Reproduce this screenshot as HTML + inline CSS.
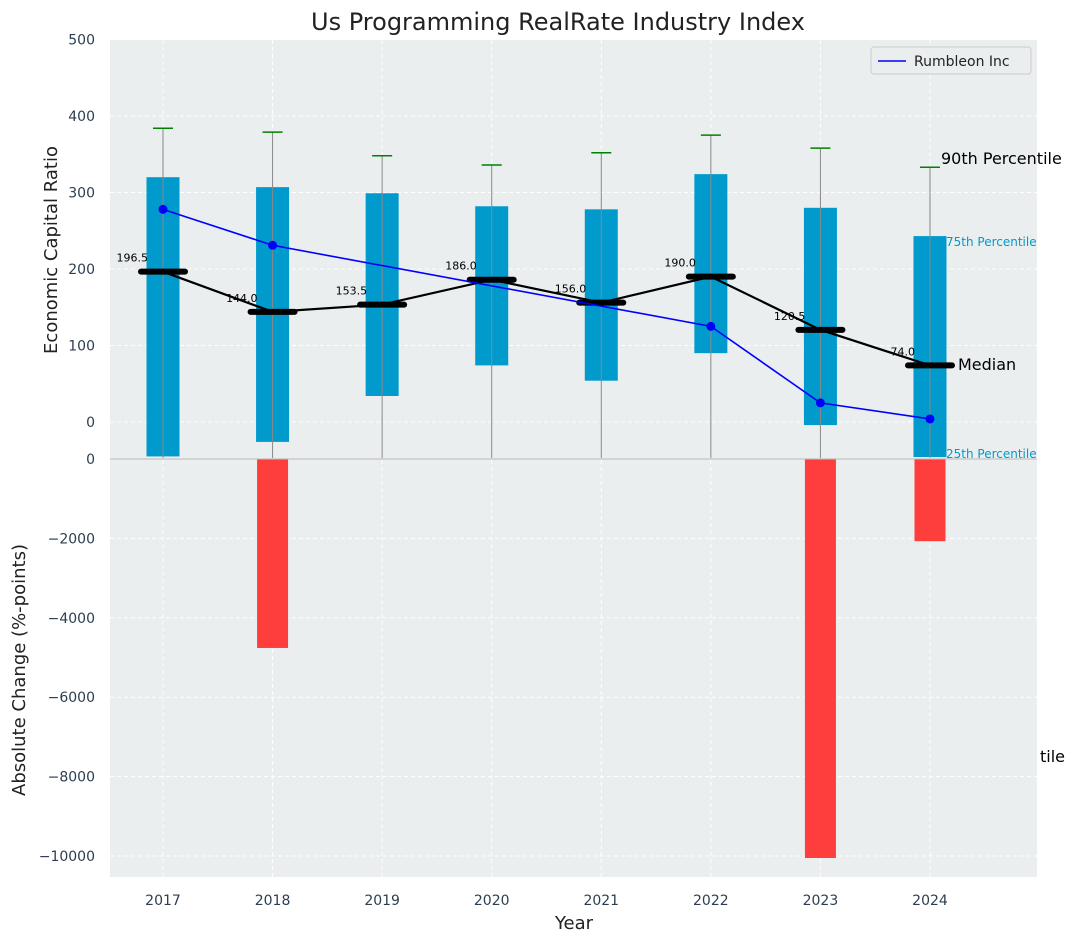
<!DOCTYPE html>
<html><head><meta charset="utf-8"><style>
body{margin:0;background:#fff;font-family:"Liberation Sans","DejaVu Sans",sans-serif}
svg text{font-family:"DejaVu Sans","Liberation Sans",sans-serif}
</style></head><body>
<svg id="c" width="1076" height="942"></svg>
<script>
const years=[2017,2018,2019,2020,2021,2022,2023,2024];
const q25=[-45,-26,34,74,54,90,-4,-46];
const q75=[320,307,299,282,278,324,280,243];
const p90=[384,379,348,336,352,375,358,333];
const medians=[196.5,144.0,153.5,186.0,156.0,190.0,120.5,74.0];
const rumbleon=[278,231,null,null,null,125,25,4];
const absChange=[0,-4760,0,0,0,0,-10050,-2070];
const topTicks=[0,100,200,300,400,500];
const botTicks=[0,-2000,-4000,-6000,-8000,-10000];

const NS="http://www.w3.org/2000/svg";
const svg=document.getElementById('c');
function el(t,a,p){const e=document.createElementNS(NS,t);for(const k in a)e.setAttribute(k,a[k]);(p||svg).appendChild(e);return e;}
const L=110,R=1037;
const x=y=>163+(y-2017)*109.57;
const yt=v=>422-v*0.765;
const yb=v=>459-v*(-0.0397)*-1*-1;
function ybot(v){return 459-v*0.0397*-1*-1*1+0;} 
const yB=v=>459+(-v)*0.0397;

let r=el('rect',{x:L,y:40,width:R-L,height:419,fill:'#eaeeee'});

r=el('rect',{x:L,y:459,width:R-L,height:418,fill:'#eaeeee'});


// grid
years.forEach(y=>{el('line',{x1:x(y),x2:x(y),y1:40,y2:877,stroke:'#fff','stroke-dasharray':'4,3','stroke-width':1});});
topTicks.forEach(v=>{el('line',{x1:L,x2:R,y1:yt(v),y2:yt(v),stroke:'#fff','stroke-dasharray':'4,3'});
 const t=el('text',{x:95,y:yt(v)+5,'text-anchor':'end','font-size':14,fill:'#2d3e50'});t.textContent=v;
 });
botTicks.forEach(v=>{el('line',{x1:L,x2:R,y1:yB(v),y2:yB(v),stroke:'#fff','stroke-dasharray':'4,3'});
 const t=el('text',{x:95,y:yB(v)+5,'text-anchor':'end','font-size':14,fill:'#2d3e50'});t.textContent=v<0?'\u2212'+(-v):v;
 });
years.forEach(y=>{const t=el('text',{x:x(y),y:905,'text-anchor':'middle','font-size':14,fill:'#2d3e50'});t.textContent=y;
 });

// boxes
years.forEach((y,i)=>{
 const b=el('rect',{x:x(y)-16.5,y:yt(q75[i]),width:33,height:Math.min(yt(q25[i]),457)-yt(q75[i]),fill:'#009acd'});
 
 el('line',{x1:x(y),x2:x(y),y1:yt(p90[i]),y2:458,stroke:'#888','stroke-width':1});
 const c=el('line',{x1:x(y)-10,x2:x(y)+10,y1:yt(p90[i]),y2:yt(p90[i]),stroke:'green','stroke-width':1.5});
 
 if(absChange[i]<0){const rb=el('rect',{x:x(y)-15.5,y:459,width:31,height:yB(absChange[i])-459,fill:'#ff3333','fill-opacity':0.95});
  }
});
el('line',{x1:L,x2:R,y1:459,y2:459,stroke:'#bbb','stroke-width':1});

// median line
let pts=years.map((y,i)=>x(y)+','+yt(medians[i])).join(' ');
let ml=el('polyline',{points:pts,fill:'none',stroke:'#000','stroke-width':2.2});

years.forEach((y,i)=>{
 const m=el('line',{x1:x(y)-22,x2:x(y)+22,y1:yt(medians[i]),y2:yt(medians[i]),stroke:'#000','stroke-width':6,'stroke-linecap':'round'});
 
 const t=el('text',{x:x(y)-15,y:yt(medians[i])-10,'text-anchor':'end','font-size':11,fill:'#000'});t.textContent=medians[i].toFixed(1);
 
});

// rumbleon
let segs=[];let cur=[];
years.forEach((y,i)=>{if(rumbleon[i]!==null)cur.push(x(y)+','+yt(rumbleon[i]));});
// line connects valid points
const rl=el('polyline',{points:cur.join(' '),fill:'none',stroke:'blue','stroke-width':1.6});

years.forEach((y,i)=>{if(rumbleon[i]!==null){const p=el('circle',{cx:x(y),cy:yt(rumbleon[i]),r:4.5,fill:'blue'});
 }});

// annotations
function txt(s,a,name){const t=el('text',a);t.textContent=s;return t;}
txt('90th Percentile',{x:941,y:164,'font-size':16,fill:'#000'},'p90-annotation');
txt('75th Percentile',{x:946,y:246,'font-size':12,fill:'#009acd'},'p75-annotation');
txt('Median',{x:958,y:370,'font-size':16,fill:'#000'},'median-annotation');
txt('25th Percentile',{x:946,y:458,'font-size':12,fill:'#009acd'},'p25-annotation');
txt('tile',{x:1040,y:762,'font-size':16,fill:'#000'},'clipped-annotation');

// titles
txt('Us Programming RealRate Industry Index',{x:558,y:30,'text-anchor':'middle','font-size':24,fill:'#222'},'chart-title');
txt('Year',{x:574,y:929,'text-anchor':'middle','font-size':18,fill:'#222'},'x-axis-title');
txt('Economic Capital Ratio',{x:57,y:250,'text-anchor':'middle','font-size':18,fill:'#222',transform:'rotate(-90 57 250)'},'top-y-axis-title');
txt('Absolute Change (%-points)',{x:25,y:670,'text-anchor':'middle','font-size':18,fill:'#222',transform:'rotate(-90 25 670)'},'bottom-y-axis-title');

// legend
const g=el('g',{});
el('rect',{x:871,y:47,width:160,height:27,rx:3,fill:'#eaeeee',stroke:'#ccc'},g);
el('line',{x1:878,x2:906,y1:61,y2:61,stroke:'blue','stroke-width':1.6},g);
const lt=el('text',{x:914,y:66,'font-size':14,fill:'#222'},g);lt.textContent='Rumbleon Inc';

</script>
</body></html>
